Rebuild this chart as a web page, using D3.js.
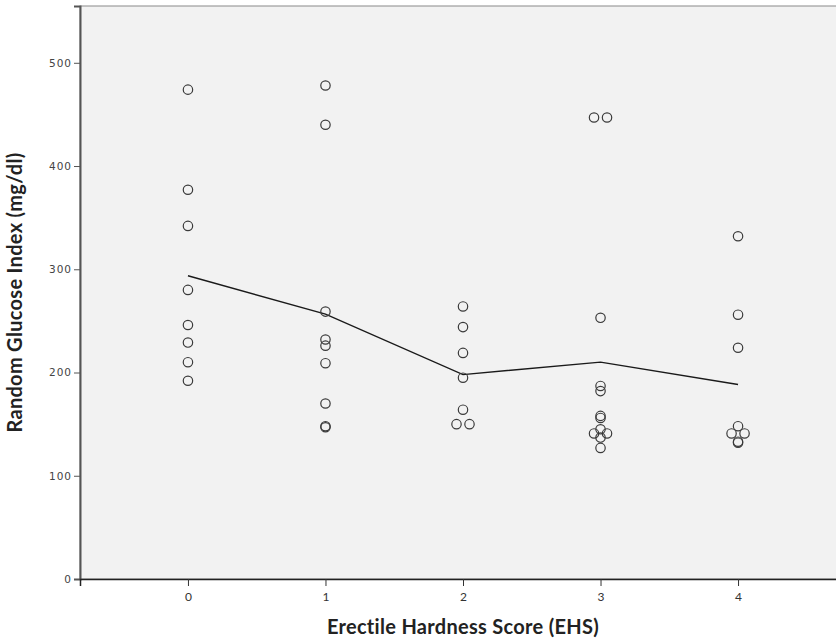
<!DOCTYPE html>
<html>
<head>
<meta charset="utf-8">
<script src="https://cdn.jsdelivr.net/npm/d3@7"></script>
<style>
  body { margin: 0; background: #fff; }
  svg { display: block; }
</style>
</head>
<body>
<svg id="chart" width="836" height="641"></svg>
<script>
// Erectile Hardness Score groups and glucose readings (mg/dl) for each
const ehsScores = [0, 1, 2, 3, 4];
const glucose0 = [474, 377, 342, 280, 246, 229, 210, 192];
const glucose1 = [478, 440, 259, 232, 226, 209, 170, 148, 147];
const glucose2 = [264, 244, 219, 195, 164, 150, 150];
const glucose3 = [447, 447, 253, 187, 182, 158, 156, 145, 141, 141, 137, 127];
const glucose4 = [332, 256, 224, 148, 141, 141, 133, 132];
const yTicks = [0, 100, 200, 300, 400, 500];

const svg = d3.select("svg#chart");
const margin = { top: 6, right: -10, bottom: 62, left: 80 };
const width = +svg.attr("width");
const height = +svg.attr("height");
const plotW = width - margin.left - margin.right;
const plotH = height - margin.top - margin.bottom;

const x = d3.scaleLinear().domain([-0.785, 4.785]).range([0, plotW]);
const y = d3.scaleLinear().domain([0, 555]).range([plotH, 0]);

const plot = svg.append("g")
  .attr("transform", "translate(" + margin.left + "," + margin.top + ")");

// panel background
plot.append("rect")
  .attr("x", 0).attr("y", 0)
  .attr("width", plotW).attr("height", plotH)
  .attr("fill", "#f2f2f2")
  .attr("stroke", "#8a8a8a")
  .attr("stroke-width", 1);

// build point list; exact duplicates get placed side by side like SPSS does
const groups = [glucose0, glucose1, glucose2, glucose3, glucose4];
let points = [];
groups.forEach((vals, i) => {
  const counts = d3.rollup(vals, v => v.length, v => v);
  const seen = new Map();
  vals.forEach(v => {
    const n = counts.get(v);
    const k = seen.get(v) || 0;
    seen.set(v, k + 1);
    points.push({ ehs: ehsScores[i], value: v, dx: (k - (n - 1) / 2) * 13 });
  });
});

// mean line
const means = groups.map((vals, i) => ({ ehs: ehsScores[i], value: d3.mean(vals) }));
const line = d3.line().x(d => x(d.ehs)).y(d => y(d.value));
plot.append("path")
  .datum(means)
  .attr("d", line)
  .attr("fill", "none")
  .attr("stroke", "#1a1a1a")
  .attr("stroke-width", 1.4);

plot.selectAll("circle.pt").data(points)
  .join("circle")
  .attr("class", "pt")
  .attr("cx", d => x(d.ehs) + d.dx)
  .attr("cy", d => y(d.value))
  .attr("r", 4.7)
  .attr("fill", "none")
  .attr("stroke", "#3a3a3a")
  .attr("stroke-width", 1.2);

// axes
const yAxis = d3.axisLeft(y).tickValues(yTicks).tickFormat(d3.format("d")).tickSize(6).tickPadding(2);
const gy = plot.append("g").call(yAxis);
gy.select(".domain").attr("stroke", "#555").attr("stroke-width", 2);
gy.selectAll(".tick line").attr("stroke", "#555");
gy.selectAll(".tick text")
  .style("font-family", "'DejaVu Sans', sans-serif")
  .style("font-size", "10.5px")
  .style("letter-spacing", "1px")
  .attr("fill", "#444");

const xAxis = d3.axisBottom(x).tickValues(ehsScores).tickFormat(d3.format("d")).tickSize(7).tickPadding(6);
const gx = plot.append("g")
  .attr("transform", "translate(0," + plotH + ")")
  .call(xAxis);
gx.select(".domain").attr("stroke", "#222").attr("stroke-width", 1.5);
gx.selectAll(".tick line").attr("stroke", "#333");
gx.selectAll(".tick text")
  .style("font-family", "Lato, sans-serif")
  .style("font-size", "12px")
  .attr("fill", "#333");

// axis titles
svg.append("text")
  .attr("x", margin.left + x(2))
  .attr("y", 634)
  .attr("text-anchor", "middle")
  .style("font-family", "Lato, sans-serif")
  .style("font-weight", "bold")
  .style("font-size", "20px")
  .style("letter-spacing", "0.3px")
  .attr("fill", "#222")
  .text("Erectile Hardness Score (EHS)");

svg.append("text")
  .attr("transform", "translate(22," + (margin.top + plotH / 2) + ") rotate(-90)")
  .attr("text-anchor", "middle")
  .style("font-family", "Lato, sans-serif")
  .style("font-weight", "bold")
  .style("font-size", "20px")
  .style("letter-spacing", "0.3px")
  .attr("fill", "#222")
  .text("Random Glucose Index (mg/dl)");
</script>
</body>
</html>
